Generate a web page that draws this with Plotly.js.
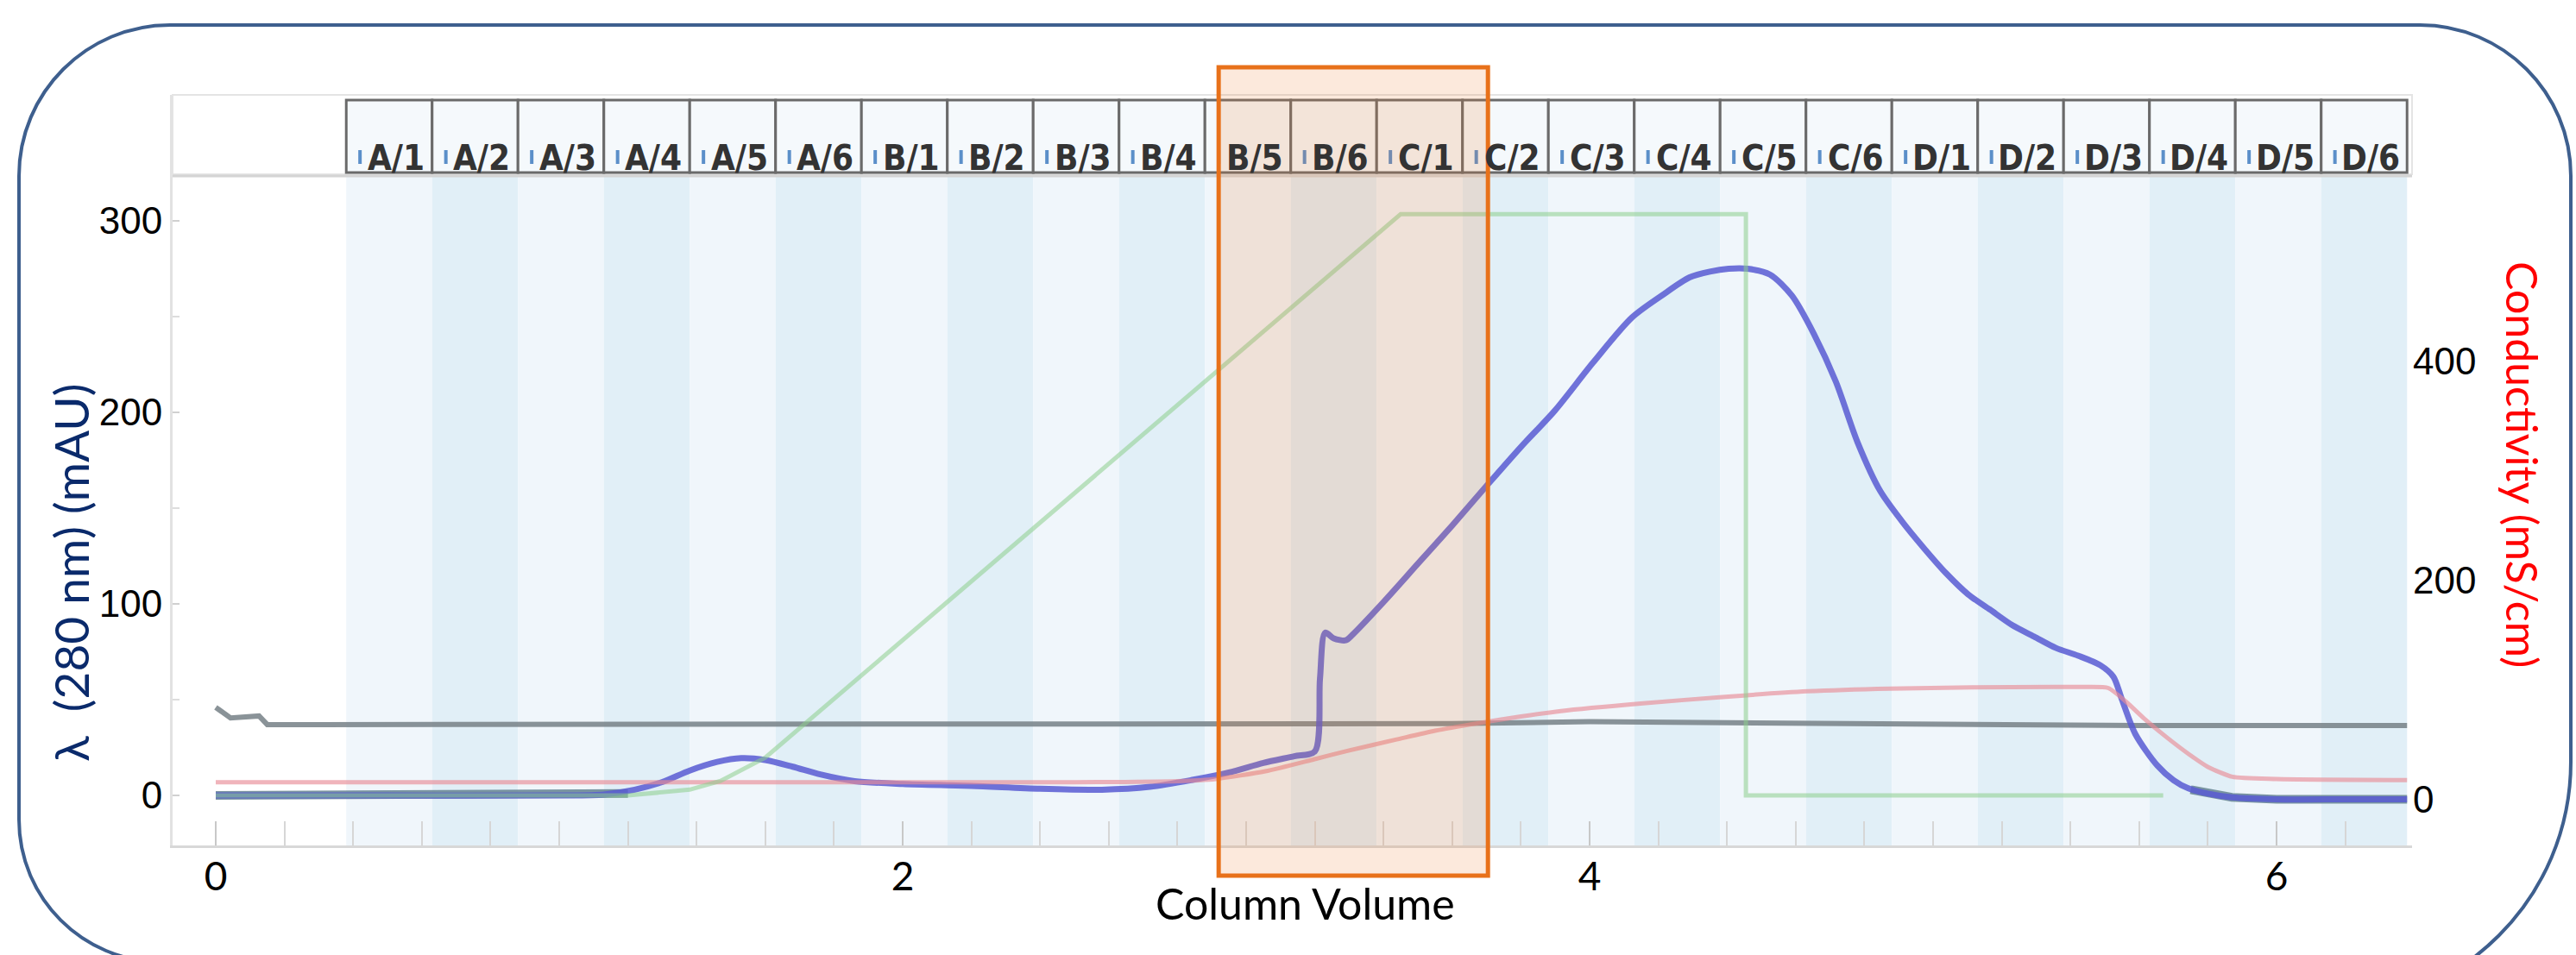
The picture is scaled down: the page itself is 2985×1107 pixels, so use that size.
<!DOCTYPE html>
<html><head><meta charset="utf-8">
<script src="https://cdn.plot.ly/plotly-3.0.1.min.js"></script>
<style>html,body{margin:0;padding:0;background:#fff;} #chart{width:2985px;height:1107px;}</style>
</head><body><div id="chart"></div>
<script>
// ---------------- data ----------------
const fractionLabels = ['A/1','A/2','A/3','A/4','A/5','A/6','B/1','B/2','B/3','B/4','B/5','B/6',
                        'C/1','C/2','C/3','C/4','C/5','C/6','D/1','D/2','D/3','D/4','D/5','D/6'];
const fractionStartCV = 0.38;
const fractionWidthCV = 0.25;
const highlightCV = [2.92, 3.704];

const uvCV  = [0,0.5,1.0,1.13,1.22,1.30,1.38,1.46,1.53,1.60,1.68,1.76,1.86,2.0,2.2,2.4,2.58,2.72,2.84,2.95,
               3.05,3.14,3.20,3.215,3.23,3.255,3.29,3.31,3.40,3.50,3.60,3.704,3.80,3.899,4.01,4.123,4.21,4.291,4.35,4.405,
               4.46,4.525,4.589,4.653,4.717,4.781,4.846,4.91,4.974,5.038,5.102,5.166,5.23,5.294,5.358,5.422,5.487,5.525,5.55,5.589,
               5.653,5.70,5.743,5.80,5.871,6.0,6.2,6.38];
const uvMAU = [0,0,0,0.5,3,7,13,17.5,19.5,18.5,15,11,7.5,6,5,3.5,3,4.5,8,12,
               17,20.5,23,61,85,82,81,84,101,121,141,162.5,182,201,226,249.5,261,270.5,273.5,275,
               275,272,261,241,216,184,159,143,129,116,105,97,89,83,77,73,68,62,50,32,
               15.6,8,3.7,1,-1,-2,-2,-2];

const baseCV  = [0,0.6,1.1,1.2,null,5.75,5.87,6.0,6.38];
const baseMAU = [0,0,0,1,null,3,-1,-2,-2];

const grayCV  = [0,0.043,0.126,0.15,0.3,1.0,2.0,3.0,3.6,4.0,4.3,4.7,5.2,5.6,6.0,6.38];
const grayMAU = [46,40.5,41.5,37,37,37,37,37,37.5,38.5,38,37.5,37,36.5,36.5,36.5];

const condCV = [0,0.5,1.0,1.5,2.0,2.5,2.8,2.912,3.056,3.199,3.30,3.438,3.55,3.678,3.80,3.917,4.156,4.395,4.634,4.874,
                5.113,5.352,5.45,5.51,5.56,5.615,5.68,5.743,5.80,5.871,6.0,6.38];
const condMS = [16,16,16,16,16,16,17,19,26,37,45,55,63,70,76,81,88,94,99,101.5,
                102.5,103,103,102,90,74,57,42,30,21,19,18];

const concCV = [0,1.2,1.38,1.47,1.6,3.45,4.455,4.455,5.67];
const concB  = [0,0,1,2.5,6.5,100,100,0,0];

// ---------------- geometry helpers ----------------
const W=2985,H=1107,L=200,R=190,T=110,B=127;
const PW=W-L-R, PH=H-T-B;
const ux = px => (px-L)/PW;
const vy = py => 1-(py-T)/PH;

function borderPath(){
  const l=22,r=2979,t=29;
  const rtl=175,rtr=175,rbl=165,bl=1115,rbr=285,br=1168;
  const k=0.5523;
  const P=(x,y)=>ux(x).toFixed(5)+','+vy(y).toFixed(5);
  let d='M'+P(l+rtl,t);
  d+=' L'+P(r-rtr,t);
  d+=' C'+P(r-rtr+k*rtr,t)+' '+P(r,t+rtr-k*rtr)+' '+P(r,t+rtr);
  d+=' L'+P(r,br-rbr);
  d+=' C'+P(r,br-rbr+k*rbr)+' '+P(r-rbr+k*rbr,br)+' '+P(r-rbr,br);
  d+=' L'+P(l+rbl,bl);
  d+=' C'+P(l+rbl-k*rbl,bl)+' '+P(l,bl-rbl+k*rbl)+' '+P(l,bl-rbl);
  d+=' L'+P(l,t+rtl);
  d+=' C'+P(l,t+rtl-k*rtl)+' '+P(l+rtl-k*rtl,t)+' '+P(l+rtl,t);
  return d;
}

// ---------------- traces ----------------
const traces = [
  {x:concCV, y:concB, yaxis:'y3', mode:'lines', name:'Conc B', line:{color:'rgba(140,205,140,0.55)', width:5}, hoverinfo:'skip'},
  {x:baseCV, y:baseMAU, mode:'lines', name:'UV baseline', connectgaps:false, line:{color:'rgba(100,130,145,0.85)', width:10}},
  {x:grayCV, y:grayMAU, mode:'lines', name:'Pressure', line:{color:'rgba(118,128,134,0.85)', width:6}},
  {x:uvCV, y:uvMAU, mode:'lines', name:'UV 280 nm', line:{color:'rgba(88,90,210,0.85)', width:7, shape:'spline', smoothing:0.8}},
  {x:condCV, y:condMS, yaxis:'y2', mode:'lines', name:'Conductivity', line:{color:'rgba(232,140,150,0.65)', width:5, shape:'spline', smoothing:0.6}}
];

// ---------------- shapes & annotations ----------------
const shapes = [];
const annotations = [];
const stripeTop = vy(200);
fractionLabels.forEach((lab,i)=>{
  const x0 = fractionStartCV + i*fractionWidthCV;
  const x1 = x0 + fractionWidthCV;
  shapes.push({type:'rect', layer:'below', xref:'x', yref:'paper', x0:x0, x1:x1, y0:0, y1:stripeTop,
    line:{width:0}, fillcolor: (i%2===1) ? '#e1eff7' : '#f0f6fb'});
});
// header band
shapes.push({type:'rect', xref:'paper', yref:'paper', x0:0, x1:1, y0:vy(202), y1:vy(110),
  line:{color:'#e4e4e4', width:2}, fillcolor:'#ffffff'});
shapes.push({type:'line', xref:'paper', yref:'paper', x0:0, x1:1, y0:vy(204), y1:vy(204),
  line:{color:'#d4d4d4', width:3}});
fractionLabels.forEach((lab,i)=>{
  const x0 = fractionStartCV + i*fractionWidthCV;
  const x1 = x0 + fractionWidthCV;
  shapes.push({type:'rect', xref:'x', yref:'paper', x0:x0, x1:x1, y0:vy(200), y1:vy(116),
    line:{color:'#6a6a6a', width:3}, fillcolor:'#f5f9fc'});
  shapes.push({type:'line', xref:'x', yref:'paper', x0:x0+0.04, x1:x0+0.04, y0:vy(190), y1:vy(174),
    line:{color:'#5b8fc9', width:4}});
  annotations.push({xref:'x', yref:'paper', x:x0+0.145, y:vy(158), text:'<b>'+lab+'</b>', showarrow:false,
    font:{family:'Liberation Sans Narrow, DejaVu Sans Condensed, Liberation Sans, sans-serif', size:40, color:'#333333'}});
});
// highlight box
shapes.push({type:'rect', xref:'x', yref:'paper', x0:highlightCV[0], x1:highlightCV[1], y0:vy(1015), y1:vy(78),
  line:{color:'#e8711a', width:5}, fillcolor:'rgba(237,125,49,0.17)'});
// rounded frame
shapes.push({type:'path', xref:'paper', yref:'paper', path:borderPath(), line:{color:'#3e5f8e', width:4}, fillcolor:'rgba(0,0,0,0)'});

annotations.push({xref:'paper', yref:'paper', x:ux(82), y:vy(664), text:'λ  (280 nm) (mAU)', textangle:-90, showarrow:false,
  xanchor:'center', yanchor:'middle', font:{family:'Lato, Liberation Sans, sans-serif', size:55, color:'#0a2a6b'}});
annotations.push({xref:'paper', yref:'paper', x:ux(2923), y:vy(538), text:'Conductivity (mS/cm)', textangle:90, showarrow:false,
  xanchor:'center', yanchor:'middle', font:{family:'Lato, Liberation Sans, sans-serif', size:50, color:'#ff0000'}});
annotations.push({xref:'paper', yref:'paper', x:ux(1512), y:vy(1047), text:'Column Volume', showarrow:false,
  xanchor:'center', yanchor:'middle', font:{family:'Lato, Liberation Sans, sans-serif', size:50, color:'#000'}});

const layout = {
  width:W, height:H,
  margin:{l:L, r:R, t:T, b:B, pad:0},
  paper_bgcolor:'#ffffff', plot_bgcolor:'#ffffff',
  showlegend:false,
  xaxis:{range:[(200-250)/398, (2795-250)/398], tickmode:'linear', tick0:0, dtick:2,
    ticks:'inside', ticklen:28, tickwidth:2, tickcolor:'#c8c8c8',
    minor:{tickmode:'linear', tick0:0, dtick:0.2, ticks:'inside', ticklen:28, tickwidth:2, tickcolor:'#d6d6d6'},
    showline:true, linecolor:'#d8d8d8', linewidth:3, showgrid:false, zeroline:false,
    tickfont:{family:'Lato, Liberation Sans, sans-serif', size:46, color:'#000'}, ticklabelstandoff:-6},
  yaxis:{range:[-26.1, 365.8], tickmode:'linear', tick0:0, dtick:100,
    ticks:'inside', ticklen:8, tickwidth:2, tickcolor:'#d0d0d0',
    minor:{tickmode:'linear', tick0:0, dtick:50, ticks:'inside', ticklen:8, tickwidth:2, tickcolor:'#dddddd'},
    showline:true, linecolor:'#e2e2e2', linewidth:3, showgrid:false, zeroline:false,
    tickfont:{family:'Liberation Sans, sans-serif', size:44, color:'#000'}},
  yaxis2:{range:[-41.7, 643.3], overlaying:'y', side:'right', tickmode:'array', tickvals:[0,200,400],
    ticks:'', showline:false, showgrid:false, zeroline:false,
    tickfont:{family:'Liberation Sans, sans-serif', size:44, color:'#000'}},
  yaxis3:{range:[-8.6, 120.5], overlaying:'y', visible:false, showgrid:false, zeroline:false},
  shapes:shapes,
  annotations:annotations
};

Plotly.newPlot('chart', traces, layout, {displayModeBar:false, staticPlot:true});
</script>
</body></html>
